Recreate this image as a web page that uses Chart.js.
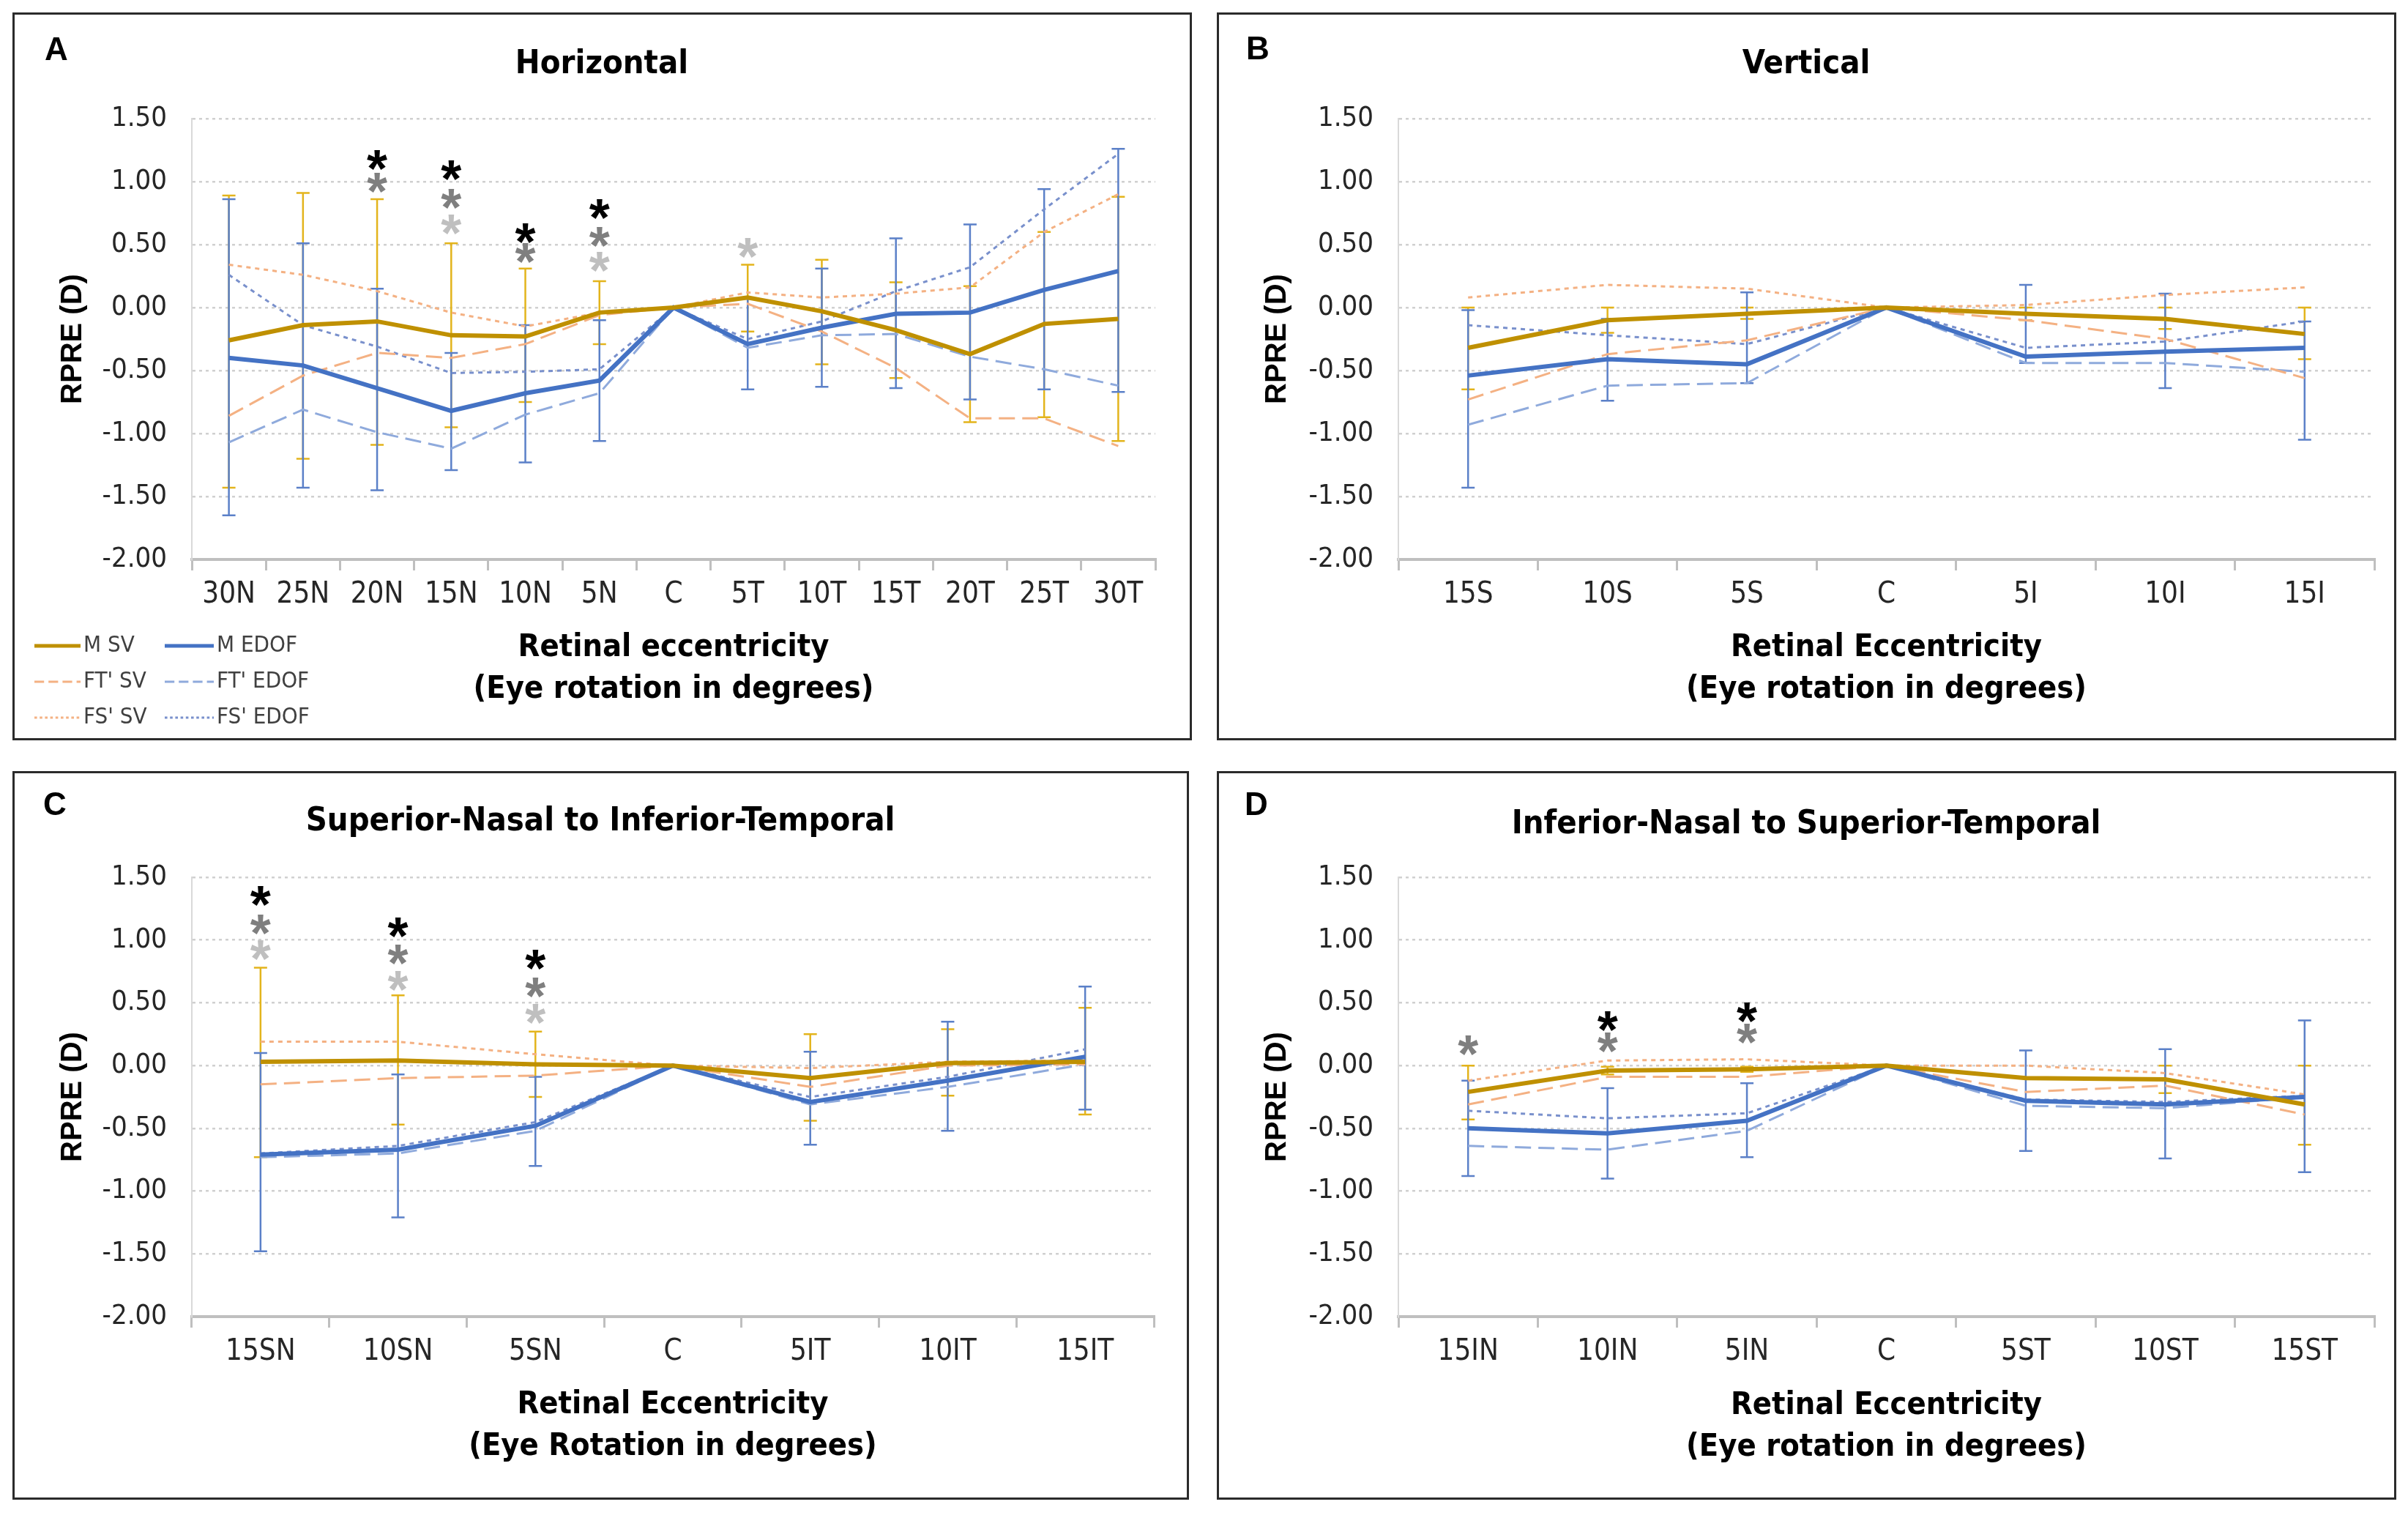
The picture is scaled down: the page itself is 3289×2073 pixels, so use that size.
<!DOCTYPE html>
<html>
<head>
<meta charset="utf-8">
<script src="https://cdn.jsdelivr.net/npm/chart.js@4.4.1/dist/chart.umd.min.js"></script>
<style>
  html, body { margin: 0; padding: 0; background: #fff; }
  body { width: 3289px; height: 2073px; position: relative; overflow: hidden; }
  .panel { position: absolute; border: 3px solid #2b2b2b; box-sizing: border-box; background: #fff; }
  .panel canvas { position: absolute; left: 0; top: 0; }
</style>
</head>
<body>
<div class="panel" id="pA"><canvas id="cA"></canvas></div>
<div class="panel" id="pB"><canvas id="cB"></canvas></div>
<div class="panel" id="pC"><canvas id="cC"></canvas></div>
<div class="panel" id="pD"><canvas id="cD"></canvas></div>
<script>
// ---- data (RPRE in D) ----
const yTicks = [1.5, 1.0, 0.5, 0.0, -0.5, -1.0, -1.5, -2.0]

// A: Horizontal
const hLabels   = ['30N', '25N', '20N', '15N', '10N', '5N', 'C', '5T', '10T', '15T', '20T', '25T', '30T']
const hMSV      = [-0.26, -0.14, -0.11, -0.22, -0.23, -0.04, 0, 0.08, -0.03, -0.18, -0.37, -0.13, -0.09]
const hMEDOF    = [-0.40, -0.46, -0.64, -0.82, -0.68, -0.58, 0, -0.29, -0.16, -0.05, -0.04, 0.14, 0.29]
const hFTSV     = [-0.86, -0.54, -0.36, -0.40, -0.29, -0.06, 0, 0.03, -0.19, -0.48, -0.88, -0.88, -1.10]
const hFTEDOF   = [-1.07, -0.81, -0.99, -1.12, -0.85, -0.68, 0, -0.32, -0.22, -0.21, -0.39, -0.49, -0.62]
const hFSSV     = [0.34, 0.26, 0.13, -0.04, -0.15, -0.04, 0, 0.12, 0.08, 0.11, 0.16, 0.60, 0.90]
const hFSEDOF   = [0.26, -0.14, -0.31, -0.52, -0.51, -0.49, 0, -0.25, -0.11, 0.13, 0.32, 0.78, 1.22]
const hSVLow    = [-1.43, -1.20, -1.09, -0.95, -0.75, -0.29, null, -0.19, -0.45, -0.56, -0.91, -0.87, -1.06]
const hSVHigh   = [0.89, 0.91, 0.86, 0.51, 0.31, 0.21, null, 0.34, 0.38, 0.20, 0.17, 0.60, 0.88]
const hEDOFLow  = [-1.65, -1.43, -1.45, -1.29, -1.23, -1.06, null, -0.65, -0.63, -0.64, -0.73, -0.65, -0.67]
const hEDOFHigh = [0.86, 0.51, 0.15, -0.36, -0.14, -0.10, null, 0.07, 0.31, 0.55, 0.66, 0.94, 1.26]
const hSigBlack = [null, null, 1.19, 1.11, 0.61, 0.80, null, null, null, null, null, null, null]
const hSigDark  = [null, null, 1.01, 0.88, 0.45, 0.58, null, null, null, null, null, null, null]
const hSigLight = [null, null, null, 0.68, null, 0.38, null, 0.49, null, null, null, null, null]

// B: Vertical
const vLabels   = ['15S', '10S', '5S', 'C', '5I', '10I', '15I']
const vMSV      = [-0.32, -0.10, -0.05, 0, -0.05, -0.09, -0.21]
const vMEDOF    = [-0.54, -0.41, -0.45, 0, -0.39, -0.35, -0.32]
const vFTSV     = [-0.73, -0.37, -0.26, 0, -0.10, -0.25, -0.56]
const vFTEDOF   = [-0.93, -0.62, -0.60, 0, -0.44, -0.44, -0.51]
const vFSSV     = [0.08, 0.18, 0.15, 0, 0.02, 0.10, 0.16]
const vFSEDOF   = [-0.14, -0.22, -0.29, 0, -0.32, -0.27, -0.11]
const vSVLow    = [-0.65, -0.20, -0.09, null, -0.10, -0.17, -0.41]
const vSVHigh   = [0.00, 0.00, 0.00, null, 0.00, 0.00, 0.00]
const vEDOFLow  = [-1.43, -0.74, -0.60, null, -0.44, -0.64, -1.05]
const vEDOFHigh = [-0.02, -0.09, 0.12, null, 0.18, 0.11, -0.11]

// C: Superior-Nasal to Inferior-Temporal
const cLabels   = ['15SN', '10SN', '5SN', 'C', '5IT', '10IT', '15IT']
const cMSV      = [0.03, 0.04, 0.01, 0, -0.10, 0.02, 0.03]
const cMEDOF    = [-0.71, -0.67, -0.48, 0, -0.29, -0.12, 0.07]
const cFTSV     = [-0.15, -0.10, -0.08, 0, -0.17, 0.00, 0.01]
const cFTEDOF   = [-0.73, -0.70, -0.52, 0, -0.31, -0.17, 0.01]
const cFSSV     = [0.19, 0.19, 0.09, 0, -0.02, 0.03, 0.04]
const cFSEDOF   = [-0.70, -0.64, -0.45, 0, -0.25, -0.09, 0.13]
const cSVLow    = [-0.73, -0.47, -0.25, null, -0.44, -0.24, -0.39]
const cSVHigh   = [0.78, 0.56, 0.27, null, 0.25, 0.29, 0.46]
const cEDOFLow  = [-1.48, -1.21, -0.80, null, -0.63, -0.52, -0.35]
const cEDOFHigh = [0.10, -0.07, -0.09, null, 0.11, 0.35, 0.63]
const cSigBlack = [1.37, 1.12, 0.86, null, null, null, null]
const cSigDark  = [1.14, 0.90, 0.64, null, null, null, null]
const cSigLight = [0.94, 0.69, 0.43, null, null, null, null]

// D: Inferior-Nasal to Superior-Temporal
const dLabels   = ['15IN', '10IN', '5IN', 'C', '5ST', '10ST', '15ST']
const dMSV      = [-0.21, -0.04, -0.03, 0, -0.10, -0.11, -0.31]
const dMEDOF    = [-0.50, -0.54, -0.44, 0, -0.28, -0.31, -0.25]
const dFTSV     = [-0.31, -0.09, -0.09, 0, -0.21, -0.16, -0.39]
const dFTEDOF   = [-0.64, -0.67, -0.52, 0, -0.32, -0.34, -0.25]
const dFSSV     = [-0.12, 0.04, 0.05, 0, 0.00, -0.06, -0.23]
const dFSEDOF   = [-0.36, -0.42, -0.38, 0, -0.27, -0.29, -0.24]
const dSVLow    = [-0.43, -0.07, -0.05, null, null, -0.22, -0.63]
const dSVHigh   = [0.00, -0.01, -0.01, null, null, 0.00, 0.00]
const dEDOFLow  = [-0.88, -0.90, -0.73, null, -0.68, -0.74, -0.85]
const dEDOFHigh = [-0.12, -0.18, -0.14, null, 0.12, 0.13, 0.36]
const dSigBlack = [null, 0.37, 0.44, null, null, null, null]
const dSigDark  = [0.18, 0.20, 0.27, null, null, null, null]

// ---- styling ----
const NARROW = "'Liberation Sans Narrow', 'Arial Narrow', 'DejaVu Sans Condensed', sans-serif"
const SANS = "'Liberation Sans', Arial, sans-serif"
const GOLD = '#bf9000'
const BLUE = '#4472c4'
const PEACH = '#f4b183'
const LBLUE = '#8faadc'
const MBLUE = '#7990cc'
const BAR_GOLD = '#e3b41c'
const BAR_BLUE = '#5b80c8'

function makeSeries(msv, medof, ftsv, ftedof, fssv, fsedof) {
  return [
    { label: 'M SV', data: msv, borderColor: GOLD, borderWidth: 6 },
    { label: 'M EDOF', data: medof, borderColor: BLUE, borderWidth: 6 },
    { label: "FT' SV", data: ftsv, borderColor: PEACH, borderWidth: 3, borderDash: [22, 10] },
    { label: "FT' EDOF", data: ftedof, borderColor: LBLUE, borderWidth: 3, borderDash: [22, 10] },
    { label: "FS' SV", data: fssv, borderColor: PEACH, borderWidth: 3, borderDash: [6, 6] },
    { label: "FS' EDOF", data: fsedof, borderColor: MBLUE, borderWidth: 3, borderDash: [6, 6] }
  ].map(d => ({ ...d, backgroundColor: d.borderColor, pointRadius: 0, tension: 0, fill: false }))
}

// panel geometry in page pixels
const panels = [
  { key: 'A', box: [17, 17, 1611, 994], plot: [262, 162, 1578, 764], letter: [75, 70], title: [822, 88, 'Horizontal'],
    xTitle: ['Retinal eccentricity', '(Eye rotation in degrees)'], xTitleY: 942, labels: hLabels,
    series: makeSeries(hMSV, hMEDOF, hFTSV, hFTEDOF, hFSSV, hFSEDOF),
    bars: [[hSVLow, hSVHigh, BAR_GOLD], [hEDOFLow, hEDOFHigh, BAR_BLUE]],
    sig: [[hSigBlack, '#000000'], [hSigDark, '#7f7f7f'], [hSigLight, '#bfbfbf']], legend: true },
  { key: 'B', box: [1662, 17, 1611, 994], plot: [1910, 162, 3243, 764], letter: [1716, 69], title: [2467, 88, 'Vertical'],
    xTitle: ['Retinal Eccentricity', '(Eye rotation in degrees)'], xTitleY: 942, labels: vLabels,
    series: makeSeries(vMSV, vMEDOF, vFTSV, vFTEDOF, vFSSV, vFSEDOF),
    bars: [[vSVLow, vSVHigh, BAR_GOLD], [vEDOFLow, vEDOFHigh, BAR_BLUE]],
    sig: [] },
  { key: 'C', box: [17, 1053, 1607, 995], plot: [262, 1198, 1576, 1798], letter: [73, 1101], title: [820, 1122, 'Superior-Nasal to Inferior-Temporal'],
    xTitle: ['Retinal Eccentricity', '(Eye Rotation in degrees)'], xTitleY: 1976, labels: cLabels,
    series: makeSeries(cMSV, cMEDOF, cFTSV, cFTEDOF, cFSSV, cFSEDOF),
    bars: [[cSVLow, cSVHigh, BAR_GOLD], [cEDOFLow, cEDOFHigh, BAR_BLUE]],
    sig: [[cSigBlack, '#000000'], [cSigDark, '#7f7f7f'], [cSigLight, '#bfbfbf']] },
  { key: 'D', box: [1662, 1053, 1611, 995], plot: [1910, 1198, 3243, 1798], letter: [1714, 1101], title: [2467, 1126, 'Inferior-Nasal to Superior-Temporal'],
    xTitle: ['Retinal Eccentricity', '(Eye rotation in degrees)'], xTitleY: 1977, labels: dLabels,
    series: makeSeries(dMSV, dMEDOF, dFTSV, dFTEDOF, dFSSV, dFSEDOF),
    bars: [[dSVLow, dSVHigh, BAR_GOLD], [dEDOFLow, dEDOFHigh, BAR_BLUE]],
    sig: [[dSigBlack, '#000000'], [dSigDark, '#7f7f7f']] }
]

const BORDER = 3

function buildChart(p) {
  const [bx, by, bw, bh] = p.box
  const el = document.getElementById('p' + p.key)
  el.style.left = bx + 'px'; el.style.top = by + 'px'
  el.style.width = bw + 'px'; el.style.height = bh + 'px'

  // canvas covers the inner area of the bordered box
  const ox = bx + BORDER, oy = by + BORDER
  const cw = bw - 2 * BORDER, ch = bh - 2 * BORDER
  const canvas = document.getElementById('c' + p.key)
  canvas.width = cw; canvas.height = ch

  const [pl, pt, pr, pb] = p.plot
  const yAxisWidth = pl - ox
  const xAxisHeight = (oy + ch) - pb
  const xTitleFont = { family: NARROW, size: 43, weight: 'bold', lineHeight: 1.33 }

  // error bars drawn under the lines
  const errorBars = {
    id: 'errorBars' + p.key,
    beforeDatasetsDraw(chart) {
      const { ctx, scales: { x, y } } = chart
      const cap = 9
      p.bars.forEach(([low, high, color]) => {
        ctx.save()
        ctx.strokeStyle = color
        ctx.lineWidth = 2.5
        low.forEach((lo, i) => {
          const hi = high[i]
          if (lo == null || hi == null) return
          const px = x.getPixelForValue(i)
          const y1 = y.getPixelForValue(lo)
          const y2 = y.getPixelForValue(hi)
          ctx.beginPath()
          ctx.moveTo(px, y1); ctx.lineTo(px, y2)
          ctx.moveTo(px - cap, y1); ctx.lineTo(px + cap, y1)
          ctx.moveTo(px - cap, y2); ctx.lineTo(px + cap, y2)
          ctx.stroke()
        })
        ctx.restore()
      })
    }
  }

  // significance asterisks
  const stars = {
    id: 'stars' + p.key,
    afterDatasetsDraw(chart) {
      const { ctx, scales: { x, y } } = chart
      const size = 72
      ctx.save()
      ctx.font = `bold ${size}px ${SANS}`
      ctx.textAlign = 'center'
      ctx.textBaseline = 'alphabetic'
      p.sig.forEach(([vals, color]) => {
        ctx.fillStyle = color
        vals.forEach((v, i) => {
          if (v == null) return
          ctx.fillText('*', x.getPixelForValue(i), y.getPixelForValue(v) + size * 0.55)
        })
      })
      ctx.restore()
    }
  }

  // panel letter and title
  const heading = {
    id: 'heading' + p.key,
    afterDraw(chart) {
      const ctx = chart.ctx
      ctx.save()
      ctx.fillStyle = '#000'
      ctx.textBaseline = 'middle'
      ctx.textAlign = 'left'
      ctx.font = `bold 44px ${SANS}`
      ctx.fillText(p.key, p.letter[0] - ox - 14, p.letter[1] - oy)
      ctx.textAlign = 'center'
      ctx.font = `bold 45px ${NARROW}`
      ctx.fillText(p.title[2], p.title[0] - ox, p.title[1] - oy)
      ctx.restore()
    }
  }

  // legend block (panel A only): two columns, three rows
  const legendBlock = {
    id: 'legendBlock' + p.key,
    afterDraw(chart) {
      if (!p.legend) return
      const ctx = chart.ctx
      const cols = [[27, 90, 94], [205, 272, 276]]
      const rows = [862, 911, 960]
      ctx.save()
      ctx.font = `31px ${NARROW}`
      ctx.textBaseline = 'middle'
      ctx.textAlign = 'left'
      chart.data.datasets.forEach((ds, i) => {
        const [x1, x2, tx] = cols[i % 2]
        const ry = rows[Math.floor(i / 2)]
        ctx.strokeStyle = ds.borderColor
        ctx.lineWidth = ds.borderWidth >= 5 ? 5 : 3
        ctx.setLineDash(ds.borderDash ? ds.borderDash.map(v => v * 0.6) : [])
        ctx.beginPath(); ctx.moveTo(x1, ry); ctx.lineTo(x2, ry); ctx.stroke()
        ctx.setLineDash([])
        ctx.fillStyle = '#404040'
        ctx.fillText(ds.label, tx, ry)
      })
      ctx.restore()
    }
  }

  return new Chart(canvas, {
    type: 'line',
    data: { labels: p.labels, datasets: p.series },
    plugins: [errorBars, stars, heading, legendBlock],
    options: {
      responsive: false,
      animation: false,
      devicePixelRatio: 1,
      layout: { padding: { top: pt - oy, right: (ox + cw) - pr, left: 0, bottom: 0 } },
      plugins: { legend: { display: false }, title: { display: false }, tooltip: { enabled: false } },
      scales: {
        x: {
          type: 'category',
          offset: true,
          afterFit: (scale) => { scale.height = xAxisHeight },
          grid: { offset: true, drawOnChartArea: false, drawTicks: true, tickLength: 15, color: '#bfbfbf', lineWidth: 3 },
          border: { display: true, color: '#bfbfbf', width: 4 },
          ticks: { autoSkip: false, maxRotation: 0, padding: 10, color: '#262626', font: { family: NARROW, size: 40 } },
          title: { display: true, text: p.xTitle, color: '#000', font: xTitleFont,
                   padding: { top: 0, bottom: (oy + ch) - p.xTitleY - 28.5 } }
        },
        y: {
          min: -2, max: 1.5,
          afterFit: (scale) => { scale.width = yAxisWidth },
          afterBuildTicks: (scale) => { scale.ticks = yTicks.map(v => ({ value: v })) },
          grid: { color: '#d0d0d0', lineWidth: 2.5, drawTicks: false },
          border: { display: true, color: '#d9d9d9', width: 2, dash: [4, 5] },
          ticks: { padding: 34, color: '#262626', font: { family: NARROW, size: 38 },
                   callback: (v) => Number(v).toFixed(2) },
          title: { display: true, text: 'RPRE (D)', color: '#000', font: { family: SANS, size: 40, weight: 'bold', lineHeight: 1.2 },
                   padding: { top: 80 - 24, bottom: 0 } }
        }
      }
    }
  })
}

panels.forEach(buildChart)
</script>
</body>
</html>
